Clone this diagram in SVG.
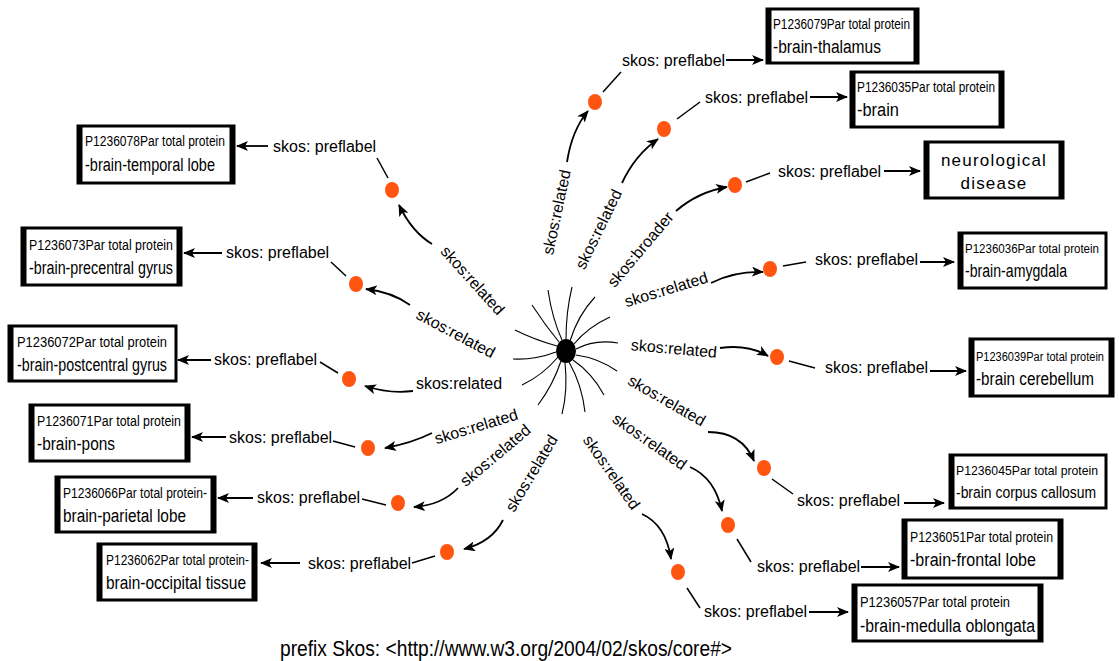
<svg xmlns="http://www.w3.org/2000/svg" width="1119" height="661" viewBox="0 0 1119 661">
<defs>
<marker id="ah" viewBox="0 0 12 10" refX="11" refY="5" markerWidth="12" markerHeight="10" markerUnits="userSpaceOnUse" orient="auto"><path d="M0,0 L12,5 L0,10 L3,5 z" fill="#000"/></marker>
<style>
text{font-family:"Liberation Sans",Arial,sans-serif;fill:#000}
.lbl{font-size:16px}
.t1{font-size:14px}
.t2{font-size:18px}
.box{fill:#fff;stroke:#000;stroke-width:3}
.side{stroke:#000;stroke-width:5}
.dot{fill:#ff5511}
.ln{stroke:#000;stroke-width:1.5;fill:none}
.arr{stroke:#000;stroke-width:1.8;fill:none;marker-end:url(#ah)}
.sp{stroke:#000;stroke-width:1.1;fill:none}
</style>
</defs>
<rect width="1119" height="661" fill="#fff"/>

<g id="hub">
<path class="sp" d="M562,340 Q552,318 548,290"/>
<path class="sp" d="M566,339 Q566,312 572,287"/>
<path class="sp" d="M570,341 Q578,315 595,297"/>
<path class="sp" d="M574,344 Q588,327 610,317"/>
<path class="sp" d="M576,349 Q595,339 618,343"/>
<path class="sp" d="M576,355 Q598,358 617,371"/>
<path class="sp" d="M573,360 Q592,373 604,395"/>
<path class="sp" d="M569,362 Q582,385 585,412"/>
<path class="sp" d="M565,363 Q568,390 562,414"/>
<path class="sp" d="M561,361 Q553,385 538,405"/>
<path class="sp" d="M558,357 Q543,375 522,385"/>
<path class="sp" d="M556,352 Q535,360 513,359"/>
<path class="sp" d="M557,346 Q535,340 515,330"/>
<path class="sp" d="M559,342 Q545,325 532,305"/>
<ellipse cx="566" cy="351" rx="10" ry="12" fill="#000"/>
</g>

<g id="connectors">
<path class="arr" d="M567,162 Q572,130 588,111"/>
<path class="arr" d="M622,183 Q635,155 658,139"/>
<path class="arr" d="M676,211 Q698,192 727,187"/>
<path class="arr" d="M711,283 Q735,271 763,272"/>
<path class="arr" d="M720,348 Q748,344 768,356"/>
<path class="arr" d="M708,432 Q742,432 754,461"/>
<path class="arr" d="M690,467 Q715,478 722,511"/>
<path class="arr" d="M642,514 Q666,525 671,559"/>
<path class="arr" d="M432,244 Q412,232 399,205"/>
<path class="arr" d="M410,305 Q392,292 366,289"/>
<path class="arr" d="M413,391 Q390,394 365,386"/>
<path class="arr" d="M432,433 Q412,443 385,448"/>
<path class="arr" d="M458,488 Q442,505 414,507"/>
<path class="arr" d="M503,520 Q492,542 464,549"/>
<path class="ln" d="M603,92 L621,72"/>
<path class="ln" d="M677,119 L700,102"/>
<path class="ln" d="M746,182 L770,173"/>
<path class="ln" d="M783,266 L806,262"/>
<path class="ln" d="M789,361 L815,368"/>
<path class="ln" d="M772,479 L793,494"/>
<path class="ln" d="M737,539 L751,562"/>
<path class="ln" d="M687,588 L700,608"/>
<path class="ln" d="M377,158 L388,178"/>
<path class="ln" d="M331,262 L346,276"/>
<path class="ln" d="M320,362 L338,373"/>
<path class="ln" d="M333,441 L355,447"/>
<path class="ln" d="M362,499 L386,505"/>
<path class="ln" d="M412,563 L435,556"/>
<path class="arr" d="M726,60 L763,60"/>
<path class="arr" d="M810,97 L847,97"/>
<path class="arr" d="M884,171 L920,171"/>
<path class="arr" d="M920,262 L954,262"/>
<path class="arr" d="M930,371 L966,371"/>
<path class="arr" d="M904,503 L944,503"/>
<path class="arr" d="M861,567 L899,567"/>
<path class="arr" d="M809,612 L848,612"/>
<path class="arr" d="M268,146 L237,146"/>
<path class="arr" d="M222,253 L184,253"/>
<path class="arr" d="M211,360 L178,360"/>
<path class="arr" d="M226,437 L192,437"/>
<path class="arr" d="M253,498 L218,498"/>
<path class="arr" d="M300,563 L261,563"/>
</g>

<g id="edge-labels">
<text class="lbl" transform="translate(556,212) rotate(-78)" text-anchor="middle" dy="6">skos:related</text>
<text class="lbl" transform="translate(598,229) rotate(-64)" text-anchor="middle" dy="6">skos:related</text>
<text class="lbl" transform="translate(640,249) rotate(-50)" text-anchor="middle" dy="6">skos:broader</text>
<text class="lbl" transform="translate(666,289) rotate(-17)" text-anchor="middle" dy="6">skos:related</text>
<text class="lbl" transform="translate(674,348) rotate(5)" text-anchor="middle" dy="6">skos:related</text>
<text class="lbl" transform="translate(667,400) rotate(30)" text-anchor="middle" dy="6">skos:related</text>
<text class="lbl" transform="translate(650,441) rotate(35)" text-anchor="middle" dy="6">skos:related</text>
<text class="lbl" transform="translate(612,472) rotate(55)" text-anchor="middle" dy="6">skos:related</text>
<text class="lbl" transform="translate(473,280) rotate(48)" text-anchor="middle" dy="6">skos:related</text>
<text class="lbl" transform="translate(456,333) rotate(28)" text-anchor="middle" dy="6">skos:related</text>
<text class="lbl" transform="translate(459,383)" text-anchor="middle" dy="6">skos:related</text>
<text class="lbl" transform="translate(476,426) rotate(-17)" text-anchor="middle" dy="6">skos:related</text>
<text class="lbl" transform="translate(495,455) rotate(-40)" text-anchor="middle" dy="6">skos:related</text>
<text class="lbl" transform="translate(531,473) rotate(-59)" text-anchor="middle" dy="6">skos:related</text>
</g>

<g id="dots">
<ellipse class="dot" cx="595" cy="102" rx="7" ry="8"/>
<ellipse class="dot" cx="664" cy="129" rx="7" ry="8"/>
<ellipse class="dot" cx="735" cy="185" rx="7" ry="8"/>
<ellipse class="dot" cx="770" cy="269" rx="7" ry="8"/>
<ellipse class="dot" cx="777" cy="357" rx="7" ry="8"/>
<ellipse class="dot" cx="764" cy="468" rx="7" ry="8"/>
<ellipse class="dot" cx="728" cy="525" rx="7" ry="8"/>
<ellipse class="dot" cx="678" cy="572" rx="7" ry="8"/>
<ellipse class="dot" cx="392" cy="190" rx="7" ry="8"/>
<ellipse class="dot" cx="356" cy="284" rx="7" ry="8"/>
<ellipse class="dot" cx="349" cy="379" rx="7" ry="8"/>
<ellipse class="dot" cx="368" cy="448" rx="7" ry="8"/>
<ellipse class="dot" cx="398" cy="503" rx="7" ry="8"/>
<ellipse class="dot" cx="447" cy="552" rx="7" ry="8"/>
</g>

<g id="pref-labels">
<text class="lbl" x="622" y="66">skos: preflabel</text>
<text class="lbl" x="705" y="103">skos: preflabel</text>
<text class="lbl" x="778" y="177">skos: preflabel</text>
<text class="lbl" x="815" y="265">skos: preflabel</text>
<text class="lbl" x="825" y="373">skos: preflabel</text>
<text class="lbl" x="797" y="506">skos: preflabel</text>
<text class="lbl" x="757" y="572">skos: preflabel</text>
<text class="lbl" x="704" y="617">skos: preflabel</text>
<text class="lbl" x="273" y="152">skos: preflabel</text>
<text class="lbl" x="226" y="258">skos: preflabel</text>
<text class="lbl" x="214" y="365">skos: preflabel</text>
<text class="lbl" x="229" y="443">skos: preflabel</text>
<text class="lbl" x="257" y="503">skos: preflabel</text>
<text class="lbl" x="308" y="569">skos: preflabel</text>
</g>

<g id="n-thalamus">
<rect class="box" x="767" y="9" width="151" height="54"/><line class="side" x1="769" y1="8" x2="769" y2="64"/><line class="side" x1="916" y1="8" x2="916" y2="64"/>
<text class="t1" x="773" y="29" textLength="137" lengthAdjust="spacingAndGlyphs">P1236079Par total protein</text>
<text class="t2" x="773" y="53" textLength="108" lengthAdjust="spacingAndGlyphs">-brain-thalamus</text>
</g>
<g id="n-brain">
<rect class="box" x="851" y="72" width="152" height="55"/><line class="side" x1="853" y1="71" x2="853" y2="128"/><line class="side" x1="1001" y1="71" x2="1001" y2="128"/>
<text class="t1" x="857" y="92" textLength="138" lengthAdjust="spacingAndGlyphs">P1236035Par total protein</text>
<text class="t2" x="857" y="116" textLength="42" lengthAdjust="spacingAndGlyphs">-brain</text>
</g>
<g id="n-neuro">
<rect class="box" x="925" y="142" width="138" height="56"/><line class="side" x1="927" y1="141" x2="927" y2="199"/><line class="side" x1="1061" y1="141" x2="1061" y2="199"/>
<text class="t2" x="994" y="166" text-anchor="middle" style="font-size:17px;letter-spacing:1.2px">neurological</text>
<text class="t2" x="994" y="189" text-anchor="middle" style="font-size:17px;letter-spacing:1.2px">disease</text>
</g>
<g id="n-amygdala">
<rect class="box" x="959" y="233" width="147" height="55"/><line class="side" x1="961" y1="232" x2="961" y2="289"/>
<text class="t1" x="965" y="253" style="font-size:12.5px" textLength="134" lengthAdjust="spacingAndGlyphs">P1236036Par total protein</text>
<text class="t2" x="965" y="277" textLength="102" lengthAdjust="spacingAndGlyphs">-brain-amygdala</text>
</g>
<g id="n-cerebellum">
<rect class="box" x="970" y="339" width="143" height="57"/><line class="side" x1="972" y1="338" x2="972" y2="397"/><line class="side" x1="1111" y1="338" x2="1111" y2="397"/>
<text class="t1" x="976" y="361" style="font-size:12px" textLength="128" lengthAdjust="spacingAndGlyphs">P1236039Par total protein</text>
<text class="t2" x="976" y="385" textLength="118" lengthAdjust="spacingAndGlyphs">-brain cerebellum</text>
</g>
<g id="n-corpus">
<rect class="box" x="950" y="455" width="156" height="53"/><line class="side" x1="952" y1="454" x2="952" y2="509"/>
<text class="t1" x="956" y="475" style="font-size:13px" textLength="142" lengthAdjust="spacingAndGlyphs">P1236045Par total protein</text>
<text class="t2" x="956" y="498" style="font-size:16px" textLength="140" lengthAdjust="spacingAndGlyphs">-brain corpus callosum</text>
</g>
<g id="n-frontal">
<rect class="box" x="903" y="520" width="159" height="58"/><line class="side" x1="905" y1="519" x2="905" y2="579"/><line class="side" x1="1060" y1="519" x2="1060" y2="579"/>
<text class="t1" x="910" y="542" textLength="143" lengthAdjust="spacingAndGlyphs">P1236051Par total protein</text>
<text class="t2" x="910" y="566" textLength="126" lengthAdjust="spacingAndGlyphs">-brain-frontal lobe</text>
</g>
<g id="n-medulla">
<rect class="box" x="853" y="585" width="189" height="56"/><line class="side" x1="855" y1="584" x2="855" y2="642"/><line class="side" x1="1040" y1="584" x2="1040" y2="642"/>
<text class="t1" x="860" y="607" textLength="150" lengthAdjust="spacingAndGlyphs">P1236057Par total protein</text>
<text class="t2" x="860" y="632" textLength="175" lengthAdjust="spacingAndGlyphs">-brain-medulla oblongata</text>
</g>
<g id="n-temporal">
<rect class="box" x="78" y="126" width="156" height="57"/><line class="side" x1="80" y1="125" x2="80" y2="184"/><line class="side" x1="232" y1="125" x2="232" y2="184"/>
<text class="t1" x="85" y="146" textLength="140" lengthAdjust="spacingAndGlyphs">P1236078Par total protein</text>
<text class="t2" x="85" y="171" textLength="130" lengthAdjust="spacingAndGlyphs">-brain-temporal lobe</text>
</g>
<g id="n-precentral">
<rect class="box" x="22" y="228" width="159" height="57"/><line class="side" x1="24" y1="227" x2="24" y2="286"/><line class="side" x1="179" y1="227" x2="179" y2="286"/>
<text class="t1" x="29" y="250" textLength="144" lengthAdjust="spacingAndGlyphs">P1236073Par total protein</text>
<text class="t2" x="29" y="274" textLength="144" lengthAdjust="spacingAndGlyphs">-brain-precentral gyrus</text>
</g>
<g id="n-postcentral">
<rect class="box" x="9" y="326" width="167" height="55"/><line class="side" x1="11" y1="325" x2="11" y2="382"/>
<text class="t1" x="17" y="347" textLength="150" lengthAdjust="spacingAndGlyphs">P1236072Par total protein</text>
<text class="t2" x="17" y="371" textLength="150" lengthAdjust="spacingAndGlyphs">-brain-postcentral gyrus</text>
</g>
<g id="n-pons">
<rect class="box" x="30" y="405" width="159" height="56"/><line class="side" x1="32" y1="404" x2="32" y2="462"/><line class="side" x1="187" y1="404" x2="187" y2="462"/>
<text class="t1" x="37" y="426" textLength="144" lengthAdjust="spacingAndGlyphs">P1236071Par total protein</text>
<text class="t2" x="37" y="450" textLength="78" lengthAdjust="spacingAndGlyphs">-brain-pons</text>
</g>
<g id="n-parietal">
<rect class="box" x="56" y="477" width="159" height="55"/><line class="side" x1="58" y1="476" x2="58" y2="533"/><line class="side" x1="213" y1="476" x2="213" y2="533"/>
<text class="t1" x="63" y="498" textLength="144" lengthAdjust="spacingAndGlyphs">P1236066Par total protein-</text>
<text class="t2" x="63" y="522" textLength="123" lengthAdjust="spacingAndGlyphs">brain-parietal lobe</text>
</g>
<g id="n-occipital">
<rect class="box" x="98" y="544" width="158" height="56"/><line class="side" x1="100" y1="543" x2="100" y2="601"/><line class="side" x1="254" y1="543" x2="254" y2="601"/>
<text class="t1" x="106" y="565" textLength="143" lengthAdjust="spacingAndGlyphs">P1236062Par total protein-</text>
<text class="t2" x="106" y="589" textLength="140" lengthAdjust="spacingAndGlyphs">brain-occipital tissue</text>
</g>

<text x="280" y="656" style="font-size:22px" textLength="452" lengthAdjust="spacingAndGlyphs">prefix Skos: &lt;http://www.w3.org/2004/02/skos/core#&gt;</text>
</svg>
